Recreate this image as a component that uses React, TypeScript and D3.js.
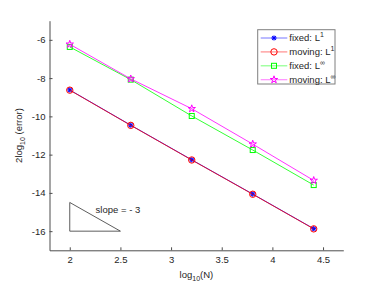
import React, { useEffect, useRef } from 'react';
import * as d3 from 'd3';

// log10 of N = 100, 400, 1600, 6400, 25600
const logN = [2, 2.602, 3.204, 3.806, 4.408];

const fixedL1 = [-8.62, -10.46, -12.27, -14.06, -15.87];
const movingL1 = [-8.63, -10.47, -12.28, -14.07, -15.88];
const fixedLinf = [-6.37, -8.08, -9.98, -11.76, -13.59];
const movingLinf = [-6.23, -8.04, -9.6, -11.45, -13.35];

const xTicks = [2, 2.5, 3, 3.5, 4, 4.5];
const yTicks = [-16, -14, -12, -10, -8, -6];

// slope triangle corners in data units
const triangle: [number, number][] = [[2, -14.5], [2, -16], [2.5, -16]];

const series = [
  { name: 'fixed: L', sup: '1', values: fixedL1, color: '#0000ff', marker: 'asterisk' },
  { name: 'moving: L', sup: '1', values: movingL1, color: '#ff0000', marker: 'circle' },
  { name: 'fixed: L', sup: '∞', values: fixedLinf, color: '#00ff00', marker: 'square' },
  { name: 'moving: L', sup: '∞', values: movingLinf, color: '#ff00ff', marker: 'star' },
];

const W = 380;
const H = 285;
const margin = { top: 20.7, right: 36.7, bottom: 34.7, left: 49.5 };
const FONT = '"Liberation Sans", Arial, sans-serif';

const Marker = ({ kind, x, y, color }: { kind: string; x: number; y: number; color: string }) => {
  if (kind === 'circle') {
    return <circle cx={x} cy={y} r={3.2} fill="none" stroke={color} strokeWidth={1} />;
  }
  if (kind === 'square') {
    return <rect x={x - 2.5} y={y - 2.5} width={5} height={5} fill="none" stroke={color} strokeWidth={1} />;
  }
  if (kind === 'star') {
    const star = d3.symbol().type(d3.symbolStar).size(17)();
    return <path d={star || ''} transform={`translate(${x},${y})`} fill="none" stroke={color} strokeWidth={1} />;
  }
  const r = 2.6;
  const d = r * 0.72;
  return (
    <g stroke={color} strokeWidth={1.1}>
      <line x1={x - r} y1={y} x2={x + r} y2={y} />
      <line x1={x} y1={y - r} x2={x} y2={y + r} />
      <line x1={x - d} y1={y - d} x2={x + d} y2={y + d} />
      <line x1={x - d} y1={y + d} x2={x + d} y2={y - d} />
    </g>
  );
};

export default function App() {
  const xAxisRef = useRef<SVGGElement>(null);
  const yAxisRef = useRef<SVGGElement>(null);

  const innerW = W - margin.left - margin.right;
  const innerH = H - margin.top - margin.bottom;

  const x = d3.scaleLinear().domain([1.8, 4.7]).range([0, innerW]);
  const y = d3.scaleLinear().domain([-17, -5]).range([innerH, 0]);

  useEffect(() => {
    if (!xAxisRef.current || !yAxisRef.current) return;
    const xa = d3.select(xAxisRef.current);
    xa.selectAll('*').remove();
    xa.call(
      d3.axisBottom(x).tickValues(xTicks).tickSizeInner(-3).tickSizeOuter(0).tickPadding(6)
        .tickFormat(d => String(d))
    );
    const ya = d3.select(yAxisRef.current);
    ya.selectAll('*').remove();
    ya.call(
      d3.axisLeft(y).tickValues(yTicks).tickSizeInner(-3).tickSizeOuter(0).tickPadding(4)
        .tickFormat(d => String(d))
    );
    [xa, ya].forEach(a => {
      a.selectAll('path').attr('stroke', '#4d4d4d').attr('stroke-width', 1);
      a.selectAll('line').attr('stroke', '#4d4d4d').attr('stroke-width', 1);
      a.selectAll('text').attr('fill', '#262626').style('font-family', FONT).style('font-size', '9.5px');
    });
  }, []);

  const line = d3.line<number>().x((_, i) => x(logN[i])).y(d => y(d));
  const triPath = d3.line()(triangle.map(([a, b]) => [x(a), y(b)] as [number, number])) + 'Z';

  const legX = 257.7 - margin.left;
  const legY = 29.7 - margin.top;

  return (
    <svg width={W} height={H} style={{ position: 'absolute', left: 0, top: 0, background: '#fff' }} fontFamily={FONT}>
      <g transform={`translate(${margin.left},${margin.top})`}>
        <g ref={xAxisRef} transform={`translate(0,${innerH})`} />
        <g ref={yAxisRef} />

        <path d={triPath} fill="none" stroke="#333" strokeWidth={0.8} />
        <text x={x(2.255)} y={y(-14.9) + 3.3} fontSize={9.5} fill="#262626">slope = - 3</text>

        {series.map((s, si) => (
          <g key={si}>
            <path d={line(s.values) || ''} fill="none" stroke={s.color} strokeWidth={0.8} />
            {s.values.map((v, i) => (
              <Marker key={i} kind={s.marker} x={x(logN[i])} y={y(v)} color={s.color} />
            ))}
          </g>
        ))}

        <g transform={`translate(${legX},${legY})`}>
          <rect x={0} y={0} width={77.3} height={54.3} fill="#fff" stroke="#7f7f7f" strokeWidth={1} />
          {series.map((s, i) => {
            const ly = 8.3 + i * 13.9;
            return (
              <g key={i}>
                <line x1={3} x2={29.6} y1={ly} y2={ly} stroke={s.color} strokeOpacity={0.45} strokeWidth={1.2} />
                <Marker kind={s.marker} x={16.3} y={ly} color={s.color} />
                <text x={31.6} y={ly + 3.4} fontSize={9.5} fill="#262626">
                  {s.name}
                  <tspan dy={-4} fontSize={7}>{s.sup}</tspan>
                </text>
              </g>
            );
          })}
        </g>
      </g>

      <text
        transform={`translate(22,${margin.top + innerH / 2}) rotate(-90)`}
        textAnchor="middle"
        fontSize={9.5}
        fill="#262626"
      >
        2log<tspan dy={3} fontSize={7}>10</tspan><tspan dy={-3}> (error)</tspan>
      </text>
      <text x={margin.left + innerW / 2} y={278} textAnchor="middle" fontSize={9.5} fill="#262626">
        log<tspan dy={3} fontSize={7}>10</tspan><tspan dy={-3}>(N)</tspan>
      </text>
    </svg>
  );
}
